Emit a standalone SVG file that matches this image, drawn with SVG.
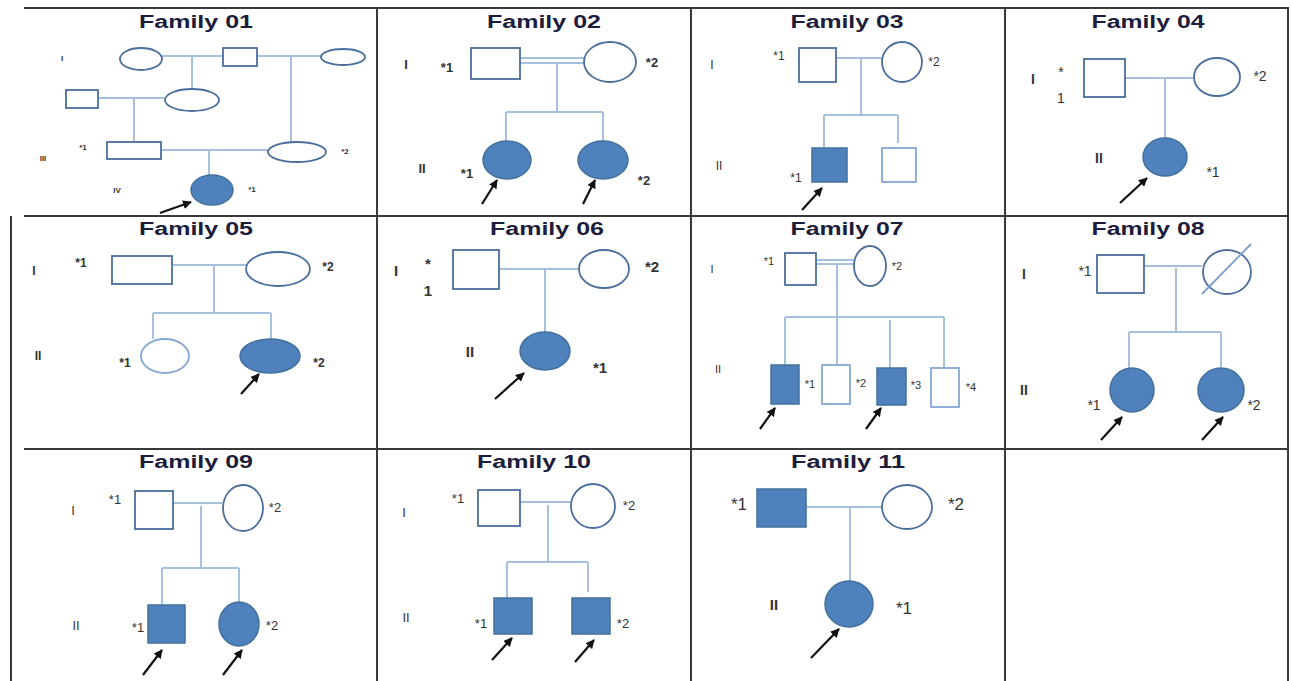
<svg xmlns="http://www.w3.org/2000/svg" width="1291" height="681" viewBox="0 0 1291 681">
<style>
.grid{stroke:#3a3a3a;stroke-width:2;fill:none}
.ln{stroke:#a6c0e0;stroke-width:2;fill:none}
.sh{stroke:#4a6e9d;stroke-width:1.8;fill:#fff}
.lt{stroke:#84a8d6;stroke-width:1.8;fill:#fff}
.af{stroke:#41719c;stroke-width:1.5;fill:#4f81bd}
.ar{stroke:#111;stroke-width:2.2;fill:none;marker-end:url(#ah)}
.t{font-family:"Liberation Sans",Arial,sans-serif;font-weight:bold;font-size:18px;fill:#1c1c3c;text-anchor:middle}
.l{font-family:"Liberation Sans",Arial,sans-serif;fill:#333;text-anchor:middle;dominant-baseline:central}
.b{font-weight:bold}
.s7{font-size:8px}.s11{font-size:11px}.s12{font-size:12px}.s13{font-size:13px}.s14{font-size:14px}.s15{font-size:15px}.s17{font-size:17px}
</style>
<defs>
<marker id="ah" viewBox="0 0 10 10" refX="9" refY="5" markerWidth="9" markerHeight="9" markerUnits="userSpaceOnUse" orient="auto">
<path d="M0,0 L10,5 L0,10 z" fill="#111"/>
</marker>
</defs>
<rect width="1291" height="681" fill="#fff"/>
<g id="table">
<line class="grid" x1="24" y1="8" x2="1289" y2="8" stroke-width="3"/>
<line class="grid" x1="24" y1="216" x2="1289" y2="216"/>
<line class="grid" x1="24" y1="449" x2="1289" y2="449"/>
<line class="grid" x1="11" y1="216" x2="11" y2="681"/>
<line class="grid" x1="377" y1="8" x2="377" y2="681"/>
<line class="grid" x1="691" y1="8" x2="691" y2="681"/>
<line class="grid" x1="1005" y1="8" x2="1005" y2="681"/>
<line class="grid" x1="1288" y1="8" x2="1288" y2="681" stroke="#111" stroke-width="3"/>
</g>
<g id="titles">
<text class="t" x="196" y="28" textLength="114" lengthAdjust="spacingAndGlyphs">Family 01</text>
<text class="t" x="544" y="28" textLength="114" lengthAdjust="spacingAndGlyphs">Family 02</text>
<text class="t" x="847" y="28" textLength="113" lengthAdjust="spacingAndGlyphs">Family 03</text>
<text class="t" x="1148" y="28" textLength="113" lengthAdjust="spacingAndGlyphs">Family 04</text>
<text class="t" x="196" y="235" textLength="114" lengthAdjust="spacingAndGlyphs">Family 05</text>
<text class="t" x="547" y="235" textLength="114" lengthAdjust="spacingAndGlyphs">Family 06</text>
<text class="t" x="847" y="235" textLength="113" lengthAdjust="spacingAndGlyphs">Family 07</text>
<text class="t" x="1148" y="235" textLength="113" lengthAdjust="spacingAndGlyphs">Family 08</text>
<text class="t" x="196" y="468" textLength="114" lengthAdjust="spacingAndGlyphs">Family 09</text>
<text class="t" x="534" y="468" textLength="114" lengthAdjust="spacingAndGlyphs">Family 10</text>
<text class="t" x="848" y="468" textLength="114" lengthAdjust="spacingAndGlyphs">Family 11</text>
</g>
<g id="generation-labels">
<text class="l b s7" x="62" y="58">I</text>
<text class="l b s7" x="43" y="158">III</text>
<text class="l b s7" x="117" y="190">IV</text>
<text class="l b s13" x="406" y="64">I</text>
<text class="l b s13" x="422" y="168">II</text>
<text class="l s12" x="712" y="65">I</text>
<text class="l s12" x="719" y="166">II</text>
<text class="l b s14" x="1033" y="79">I</text>
<text class="l b s14" x="1099" y="158">II</text>
<text class="l b s12" x="34" y="271">I</text>
<text class="l b s12" x="38" y="356">II</text>
<text class="l b s15" x="396" y="270">I</text>
<text class="l b s15" x="470" y="351">II</text>
<text class="l s11" x="712" y="269">I</text>
<text class="l s11" x="718" y="369">II</text>
<text class="l b s14" x="1024" y="274">I</text>
<text class="l b s14" x="1024" y="390">II</text>
<text class="l s13" x="73" y="510">I</text>
<text class="l s13" x="76" y="625">II</text>
<text class="l s13" x="404" y="512">I</text>
<text class="l s13" x="406" y="617">II</text>
<text class="l b s15" x="774" y="604">II</text>
</g>
<g id="connectors">
<!-- F01 -->
<line class="ln" x1="162" y1="56" x2="223" y2="56"/>
<line class="ln" x1="192" y1="56" x2="192" y2="88"/>
<line class="ln" x1="257" y1="56" x2="322" y2="56"/>
<line class="ln" x1="291" y1="56" x2="291" y2="142"/>
<line class="ln" x1="98" y1="98" x2="164" y2="98"/>
<line class="ln" x1="134" y1="98" x2="134" y2="142"/>
<line class="ln" x1="161" y1="150" x2="268" y2="150"/>
<line class="ln" x1="209" y1="150" x2="209" y2="176"/>
<!-- F02 -->
<line class="ln" x1="520" y1="58" x2="584" y2="58"/>
<line class="ln" x1="520" y1="63" x2="584" y2="63"/>
<line class="ln" x1="557" y1="63" x2="557" y2="112"/>
<line class="ln" x1="506" y1="112" x2="603" y2="112"/>
<line class="ln" x1="506" y1="112" x2="506" y2="142"/>
<line class="ln" x1="603" y1="112" x2="603" y2="141"/>
<!-- F03 -->
<line class="ln" x1="836" y1="58" x2="882" y2="58"/>
<line class="ln" x1="861" y1="58" x2="861" y2="115"/>
<line class="ln" x1="824" y1="115" x2="898" y2="115"/>
<line class="ln" x1="824" y1="115" x2="824" y2="148"/>
<line class="ln" x1="898" y1="115" x2="898" y2="143"/>
<!-- F04 -->
<line class="ln" x1="1125" y1="78" x2="1194" y2="78"/>
<line class="ln" x1="1165" y1="78" x2="1165" y2="138"/>
<!-- F05 -->
<line class="ln" x1="172" y1="265" x2="246" y2="265"/>
<line class="ln" x1="214" y1="265" x2="214" y2="313"/>
<line class="ln" x1="153" y1="313" x2="271" y2="313"/>
<line class="ln" x1="153" y1="313" x2="153" y2="339"/>
<line class="ln" x1="271" y1="313" x2="271" y2="340"/>
<!-- F06 -->
<line class="ln" x1="499" y1="269" x2="578" y2="269"/>
<line class="ln" x1="545" y1="269" x2="545" y2="332"/>
<!-- F07 -->
<line class="ln" x1="816" y1="260" x2="854" y2="260"/>
<line class="ln" x1="816" y1="264" x2="854" y2="264"/>
<line class="ln" x1="837" y1="264" x2="837" y2="317"/>
<line class="ln" x1="785" y1="317" x2="944" y2="317"/>
<line class="ln" x1="785" y1="317" x2="785" y2="365"/>
<line class="ln" x1="837" y1="317" x2="837" y2="365"/>
<line class="ln" x1="890" y1="320" x2="890" y2="368"/>
<line class="ln" x1="944" y1="317" x2="944" y2="368"/>
<!-- F08 -->
<line class="ln" x1="1144" y1="266" x2="1202" y2="266"/>
<line class="ln" x1="1176" y1="268" x2="1176" y2="332"/>
<line class="ln" x1="1129" y1="332" x2="1221" y2="332"/>
<line class="ln" x1="1129" y1="332" x2="1129" y2="368"/>
<line class="ln" x1="1221" y1="332" x2="1221" y2="367"/>
<!-- F09 -->
<line class="ln" x1="173" y1="503" x2="222" y2="503"/>
<line class="ln" x1="201" y1="506" x2="201" y2="568"/>
<line class="ln" x1="162" y1="568" x2="239" y2="568"/>
<line class="ln" x1="162" y1="568" x2="162" y2="605"/>
<line class="ln" x1="239" y1="568" x2="239" y2="602"/>
<!-- F10 -->
<line class="ln" x1="520" y1="502" x2="571" y2="502"/>
<line class="ln" x1="548" y1="505" x2="548" y2="562"/>
<line class="ln" x1="507" y1="562" x2="588" y2="562"/>
<line class="ln" x1="507" y1="562" x2="507" y2="598"/>
<line class="ln" x1="588" y1="562" x2="588" y2="592"/>
<!-- F11 -->
<line class="ln" x1="806" y1="507" x2="882" y2="507"/>
<line class="ln" x1="850" y1="507" x2="850" y2="581"/>
</g>
<g id="proband-arrows">
<line class="ar" x1="160" y1="213" x2="191" y2="202"/>
<line class="ar" x1="482" y1="204" x2="497" y2="180" stroke-width="3"/>
<line class="ar" x1="583" y1="204" x2="595" y2="180" stroke-width="3"/>
<line class="ar" x1="802" y1="210" x2="822" y2="188"/>
<line class="ar" x1="1120" y1="203" x2="1147" y2="178"/>
<line class="ar" x1="241" y1="394" x2="259" y2="374" stroke-width="3"/>
<line class="ar" x1="495" y1="399" x2="524" y2="373"/>
<line class="ar" x1="760" y1="429" x2="775" y2="408"/>
<line class="ar" x1="866" y1="429" x2="881" y2="408"/>
<line class="ar" x1="1101" y1="440" x2="1122" y2="417"/>
<line class="ar" x1="1202" y1="440" x2="1223" y2="417"/>
<line class="ar" x1="143" y1="675" x2="162" y2="650"/>
<line class="ar" x1="223" y1="675" x2="242" y2="650"/>
<line class="ar" x1="492" y1="660" x2="512" y2="638"/>
<line class="ar" x1="575" y1="662" x2="594" y2="640"/>
<line class="ar" x1="811" y1="658" x2="839" y2="629"/>
</g>
<!-- Family 01 -->
<g id="f01-I-1"><ellipse class="sh" cx="141" cy="59" rx="21" ry="11"/></g>
<g id="f01-I-2"><rect class="sh" x="223" y="48" width="34" height="18"/></g>
<g id="f01-I-3"><ellipse class="sh" cx="343" cy="57" rx="22" ry="8"/></g>
<g id="f01-II-1"><rect class="sh" x="66" y="90" width="32" height="18"/></g>
<g id="f01-II-2"><ellipse class="sh" cx="192" cy="100" rx="27" ry="11"/></g>
<g id="f01-III-1"><rect class="sh" x="107" y="142" width="54" height="17"/><text class="l b s7" x="83" y="147">*1</text></g>
<g id="f01-III-2"><ellipse class="sh" cx="297" cy="152" rx="29" ry="10"/><text class="l b s7" x="345" y="151">*2</text></g>
<g id="f01-IV-1"><ellipse class="af" cx="212" cy="190" rx="21" ry="15"/><text class="l b s7" x="252" y="189">*1</text></g>
<!-- Family 02 -->
<g id="f02-I-1"><rect class="sh" x="471" y="48" width="49" height="31"/><text class="l b s13" x="447" y="67">*1</text></g>
<g id="f02-I-2"><ellipse class="sh" cx="610" cy="62" rx="26" ry="20"/><text class="l b s13" x="652" y="62">*2</text></g>
<g id="f02-II-1"><ellipse class="af" cx="507" cy="160" rx="24" ry="19"/><text class="l b s13" x="467" y="173">*1</text></g>
<g id="f02-II-2"><ellipse class="af" cx="603" cy="160" rx="25" ry="19"/><text class="l b s13" x="644" y="180">*2</text></g>
<!-- Family 03 -->
<g id="f03-I-1"><rect class="sh" x="799" y="48" width="37" height="34"/><text class="l s12" x="779" y="56">*1</text></g>
<g id="f03-I-2"><ellipse class="sh" cx="902" cy="62" rx="20" ry="20"/><text class="l s12" x="934" y="62">*2</text></g>
<g id="f03-II-1"><rect class="af" x="812" y="148" width="35" height="34"/><text class="l s12" x="796" y="178">*1</text></g>
<g id="f03-II-2"><rect class="lt" x="882" y="148" width="34" height="34"/></g>
<!-- Family 04 -->
<g id="f04-I-1"><rect class="sh" x="1084" y="59" width="41" height="38"/><text class="l s14" x="1061" y="72">*</text><text class="l s14" x="1061" y="98">1</text></g>
<g id="f04-I-2"><ellipse class="sh" cx="1217" cy="77" rx="23" ry="19"/><text class="l s14" x="1260" y="76">*2</text></g>
<g id="f04-II-1"><ellipse class="af" cx="1165" cy="157" rx="22" ry="19"/><text class="l s14" x="1213" y="172">*1</text></g>
<!-- Family 05 -->
<g id="f05-I-1"><rect class="sh" x="112" y="256" width="60" height="28"/><text class="l b s12" x="81" y="263">*1</text></g>
<g id="f05-I-2"><ellipse class="sh" cx="278" cy="269" rx="32" ry="17"/><text class="l b s12" x="328" y="267">*2</text></g>
<g id="f05-II-1"><ellipse class="lt" cx="165" cy="356" rx="24" ry="17"/><text class="l b s12" x="125" y="363">*1</text></g>
<g id="f05-II-2"><ellipse class="af" cx="270" cy="356" rx="30" ry="17"/><text class="l b s12" x="319" y="363">*2</text></g>
<!-- Family 06 -->
<g id="f06-I-1"><rect class="sh" x="453" y="250" width="46" height="39"/><text class="l b s15" x="428" y="263">*</text><text class="l b s15" x="428" y="290">1</text></g>
<g id="f06-I-2"><ellipse class="sh" cx="604" cy="269" rx="25" ry="19"/><text class="l b s15" x="652" y="266">*2</text></g>
<g id="f06-II-1"><ellipse class="af" cx="545" cy="351" rx="25" ry="19"/><text class="l b s15" x="600" y="367">*1</text></g>
<!-- Family 07 -->
<g id="f07-I-1"><rect class="sh" x="785" y="253" width="31" height="32"/><text class="l s11" x="769" y="261">*1</text></g>
<g id="f07-I-2"><ellipse class="sh" cx="870" cy="266" rx="16" ry="20"/><text class="l s11" x="897" y="266">*2</text></g>
<g id="f07-II-1"><rect class="af" x="771" y="365" width="28" height="39"/><text class="l s11" x="810" y="384">*1</text></g>
<g id="f07-II-2"><rect class="lt" x="822" y="365" width="28" height="39"/><text class="l s11" x="861" y="383">*2</text></g>
<g id="f07-II-3"><rect class="af" x="877" y="368" width="29" height="37"/><text class="l s11" x="916" y="385">*3</text></g>
<g id="f07-II-4"><rect class="lt" x="931" y="368" width="28" height="39"/><text class="l s11" x="971" y="387">*4</text></g>
<!-- Family 08 -->
<g id="f08-I-1"><rect class="sh" x="1097" y="255" width="47" height="38"/><text class="l s14" x="1085" y="271">*1</text></g>
<g id="f08-I-2"><ellipse class="sh" cx="1227" cy="272" rx="24" ry="22"/><line x1="1202" y1="294" x2="1251" y2="244" stroke="#7d9fcf" stroke-width="1.8"/></g>
<g id="f08-II-1"><ellipse class="af" cx="1132" cy="390" rx="22" ry="22"/><text class="l s14" x="1094" y="405">*1</text></g>
<g id="f08-II-2"><ellipse class="af" cx="1221" cy="390" rx="23" ry="22"/><text class="l s14" x="1254" y="405">*2</text></g>
<!-- Family 09 -->
<g id="f09-I-1"><rect class="sh" x="135" y="491" width="38" height="38"/><text class="l s13" x="115" y="499">*1</text></g>
<g id="f09-I-2"><ellipse class="sh" cx="243" cy="508" rx="20" ry="23"/><text class="l s13" x="275" y="507">*2</text></g>
<g id="f09-II-1"><rect class="af" x="148" y="605" width="37" height="38"/><text class="l s13" x="138" y="627">*1</text></g>
<g id="f09-II-2"><ellipse class="af" cx="239" cy="624" rx="20" ry="22"/><text class="l s13" x="272" y="625">*2</text></g>
<!-- Family 10 -->
<g id="f10-I-1"><rect class="sh" x="478" y="490" width="42" height="36"/><text class="l s13" x="458" y="498">*1</text></g>
<g id="f10-I-2"><ellipse class="sh" cx="593" cy="506" rx="22" ry="22"/><text class="l s13" x="629" y="505">*2</text></g>
<g id="f10-II-1"><rect class="af" x="494" y="598" width="38" height="36"/><text class="l s13" x="481" y="623">*1</text></g>
<g id="f10-II-2"><rect class="af" x="572" y="598" width="38" height="36"/><text class="l s13" x="623" y="623">*2</text></g>
<!-- Family 11 -->
<g id="f11-I-1"><rect class="af" x="757" y="489" width="49" height="38"/><text class="l s17" x="739" y="504">*1</text></g>
<g id="f11-I-2"><ellipse class="sh" cx="907" cy="507" rx="25" ry="22"/><text class="l s17" x="956" y="504">*2</text></g>
<g id="f11-II-1"><ellipse class="af" cx="849" cy="604" rx="24" ry="23"/><text class="l s17" x="904" y="608">*1</text></g>
</svg>
